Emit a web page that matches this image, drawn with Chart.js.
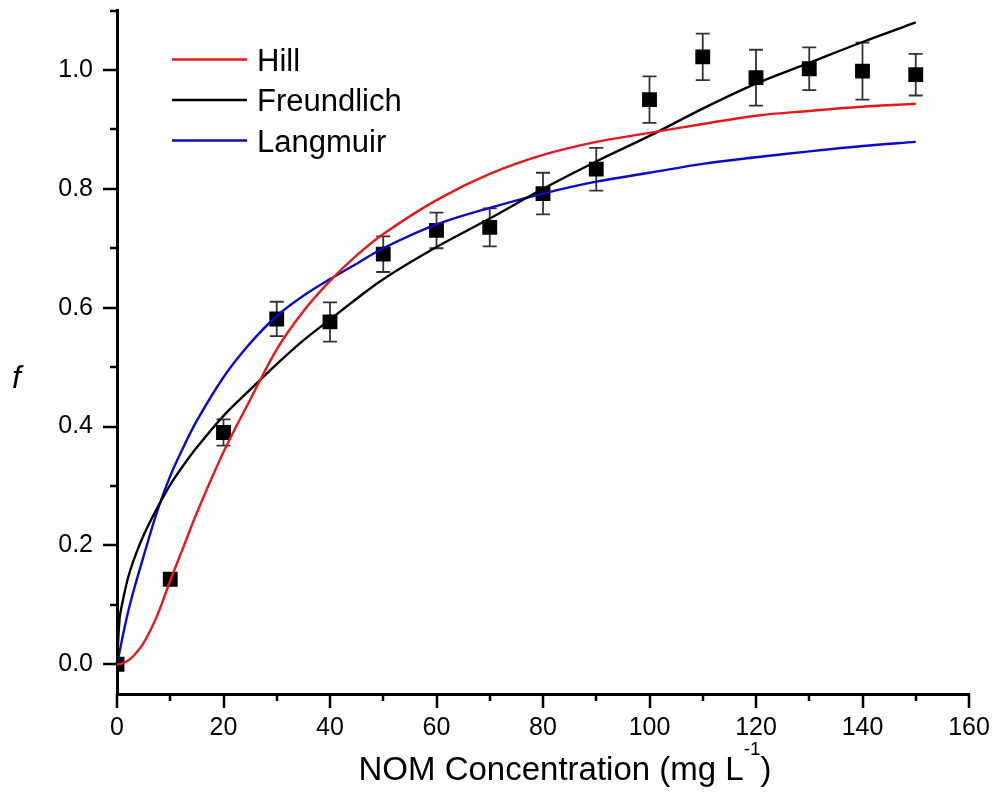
<!DOCTYPE html>
<html>
<head>
<meta charset="utf-8">
<title>NOM concentration fits</title>
<script src="https://cdn.jsdelivr.net/npm/chart.js@4.4.0/dist/chart.umd.min.js"></script>
<style>
  html, body { margin: 0; padding: 0; background: #fff; }
</style>
</head>
<body>
<canvas id="chart" width="996" height="792"></canvas>
<script>
// measured points (f vs NOM concentration)
const concentration = [0, 10, 20, 30, 40, 50, 60, 70, 80, 90, 100, 110, 120, 130, 140, 150];
const fMeasured = [0.0, 0.143, 0.39, 0.581, 0.576, 0.69, 0.73, 0.735, 0.792, 0.833, 0.95, 1.022, 0.987, 1.002, 0.998, 0.992];
const fError = [0, 0, 0.022, 0.029, 0.033, 0.03, 0.03, 0.032, 0.035, 0.036, 0.039, 0.039, 0.047, 0.036, 0.048, 0.035];

// fitted curves
const curveX = [0, 0.5, 1, 2, 3, 5, 7.5, 10, 12.5, 15, 20, 25, 30, 35, 40, 45, 50, 60, 70, 80, 90, 100, 110, 120, 130, 140, 150];
const hillFit = [0, 0.0004, 0.0015, 0.006, 0.013, 0.036, 0.081, 0.141, 0.198, 0.255, 0.357, 0.445, 0.53, 0.594, 0.645, 0.688, 0.724, 0.781, 0.825, 0.857, 0.879, 0.894, 0.909, 0.923, 0.931, 0.938, 0.943];
const freundlichFit = [0, 0.078, 0.103, 0.143, 0.172, 0.217, 0.262, 0.302, 0.335, 0.365, 0.418, 0.462, 0.505, 0.545, 0.58, 0.615, 0.648, 0.702, 0.75, 0.8, 0.846, 0.889, 0.935, 0.977, 1.012, 1.047, 1.08];
const langmuirFit = [0, 0.022, 0.044, 0.085, 0.12, 0.182, 0.256, 0.317, 0.366, 0.41, 0.483, 0.54, 0.586, 0.62, 0.648, 0.674, 0.7, 0.74, 0.768, 0.792, 0.812, 0.827, 0.842, 0.853, 0.863, 0.872, 0.879];

// axis ticks
const xTickValues = [0, 10, 20, 30, 40, 50, 60, 70, 80, 90, 100, 110, 120, 130, 140, 150, 160];
const xMajor = [0, 20, 40, 60, 80, 100, 120, 140, 160];
const xTickLabels = ['0', '20', '40', '60', '80', '100', '120', '140', '160'];
const yTickValues = [0, 0.1, 0.2, 0.3, 0.4, 0.5, 0.6, 0.7, 0.8, 0.9, 1.0, 1.1];
const yMajor = [0, 0.2, 0.4, 0.6, 0.8, 1.0];
const yTickLabels = ['0.0', '0.2', '0.4', '0.6', '0.8', '1.0'];

const FONT = "'Liberation Sans', Arial, sans-serif";

function toPoints(xs, ys) {
    return xs.map((x, i) => ({ x: x, y: ys[i] }));
}

// error bars, outward ticks, legend and axis titles
const decor = {
    id: 'decor',
    beforeDatasetsDraw(chart) {
        const ctx = chart.ctx;
        const xs = chart.scales.x, ys = chart.scales.y;
        ctx.save();
        ctx.strokeStyle = '#333';
        ctx.lineWidth = 1.8;
        concentration.forEach((c, i) => {
            const e = fError[i];
            if (!e) return;
            const px = xs.getPixelForValue(c);
            const top = ys.getPixelForValue(fMeasured[i] + e);
            const bot = ys.getPixelForValue(fMeasured[i] - e);
            ctx.beginPath();
            ctx.moveTo(px, top); ctx.lineTo(px, bot);
            ctx.moveTo(px - 7, top); ctx.lineTo(px + 7, top);
            ctx.moveTo(px - 7, bot); ctx.lineTo(px + 7, bot);
            ctx.stroke();
        });
        ctx.restore();
    },
    afterDraw(chart) {
        const ctx = chart.ctx;
        const area = chart.chartArea;
        const xs = chart.scales.x, ys = chart.scales.y;
        ctx.save();

        // ticks
        ctx.strokeStyle = '#000';
        ctx.lineWidth = 2.5;
        ctx.beginPath();
        xTickValues.forEach(v => {
            const px = Math.round(xs.getPixelForValue(v));
            const len = xMajor.includes(v) ? 14 : 7;
            ctx.moveTo(px, area.bottom);
            ctx.lineTo(px, area.bottom + len);
        });
        yTickValues.forEach(v => {
            const py = Math.round(ys.getPixelForValue(v));
            const len = yMajor.includes(v) ? 14 : 7;
            ctx.moveTo(area.left, py);
            ctx.lineTo(area.left - len, py);
        });
        ctx.stroke();

        // legend
        ctx.font = '31px ' + FONT;
        ctx.fillStyle = '#000';
        ctx.textBaseline = 'alphabetic';
        ctx.textAlign = 'left';
        chart.data.datasets.slice(0, 3).forEach((ds, i) => {
            const ly = area.top + 49 + i * 40.5;
            ctx.strokeStyle = ds.borderColor;
            ctx.lineWidth = 2.5;
            ctx.beginPath();
            ctx.moveTo(area.left + 55, ly);
            ctx.lineTo(area.left + 130, ly);
            ctx.stroke();
            ctx.fillText(ds.label, area.left + 140, ly + 11);
        });

        // y title
        ctx.font = 'italic 32px ' + FONT;
        ctx.fillText('f', 12, 388);

        // x title with superscript
        const main = 'NOM Concentration (mg L';
        const sup = '-1';
        const close = ')';
        ctx.font = '33px ' + FONT;
        const wMain = ctx.measureText(main).width;
        const wClose = ctx.measureText(close).width;
        ctx.font = '19px ' + FONT;
        const wSup = ctx.measureText(sup).width;
        let tx = 565 - (wMain + wSup + wClose) / 2;
        const base = 780;
        ctx.font = '33px ' + FONT;
        ctx.fillText(main, tx, base);
        tx += wMain;
        ctx.font = '19px ' + FONT;
        ctx.fillText(sup, tx, base - 25);
        tx += wSup;
        ctx.font = '33px ' + FONT;
        ctx.fillText(close, tx, base);

        ctx.restore();
    }
};

const ctx = document.getElementById('chart').getContext('2d');
new Chart(ctx, {
    type: 'scatter',
    data: {
        datasets: [
            {
                label: 'Hill', type: 'line', data: toPoints(curveX, hillFit),
                borderColor: '#e3191c', borderWidth: 2.4, pointRadius: 0,
                tension: 0.35, fill: false
            },
            {
                label: 'Freundlich', type: 'line', data: toPoints(curveX, freundlichFit),
                borderColor: '#000000', borderWidth: 2.4, pointRadius: 0,
                tension: 0.35, fill: false
            },
            {
                label: 'Langmuir', type: 'line', data: toPoints(curveX, langmuirFit),
                borderColor: '#0a0ac8', borderWidth: 2.4, pointRadius: 0,
                tension: 0.35, fill: false
            },
            {
                label: 'Measured', data: toPoints(concentration, fMeasured),
                pointStyle: 'rect', pointRadius: 10.5, pointHoverRadius: 10.5,
                backgroundColor: '#000', borderColor: '#000', borderWidth: 0
            }
        ]
    },
    options: {
        responsive: false,
        animation: false,
        devicePixelRatio: 1,
        layout: { padding: { top: 8, right: 27, left: 0, bottom: 0 } },
        plugins: { legend: { display: false }, tooltip: { enabled: false } },
        scales: {
            x: {
                type: 'linear', min: 0, max: 160,
                afterFit: s => { s.height = 98; s.paddingLeft = 0; s.paddingRight = 0; },
                afterBuildTicks: s => { s.ticks = xTickValues.map(v => ({ value: v })); },
                ticks: {
                    autoSkip: false, maxRotation: 0, padding: 5, color: '#000',
                    font: { family: FONT, size: 25 },
                    callback: v => { const k = xMajor.indexOf(v); return k >= 0 ? xTickLabels[k] : ''; }
                },
                grid: { drawOnChartArea: false, drawTicks: true, tickLength: 14, tickColor: 'rgba(0,0,0,0)' },
                border: { display: true, color: '#000', width: 3 }
            },
            y: {
                type: 'linear', min: -0.05, max: 1.1,
                afterFit: s => { s.width = 117; s.paddingTop = 0; s.paddingBottom = 0; },
                afterBuildTicks: s => { s.ticks = yTickValues.map(v => ({ value: v })); },
                ticks: {
                    autoSkip: false, padding: 10, color: '#000',
                    font: { family: FONT, size: 25 },
                    callback: v => { const k = yMajor.indexOf(v); return k >= 0 ? yTickLabels[k] : ''; }
                },
                grid: { drawOnChartArea: false, drawTicks: true, tickLength: 14, tickColor: 'rgba(0,0,0,0)' },
                border: { display: true, color: '#000', width: 3 }
            }
        }
    },
    plugins: [decor]
});
</script>
</body>
</html>
